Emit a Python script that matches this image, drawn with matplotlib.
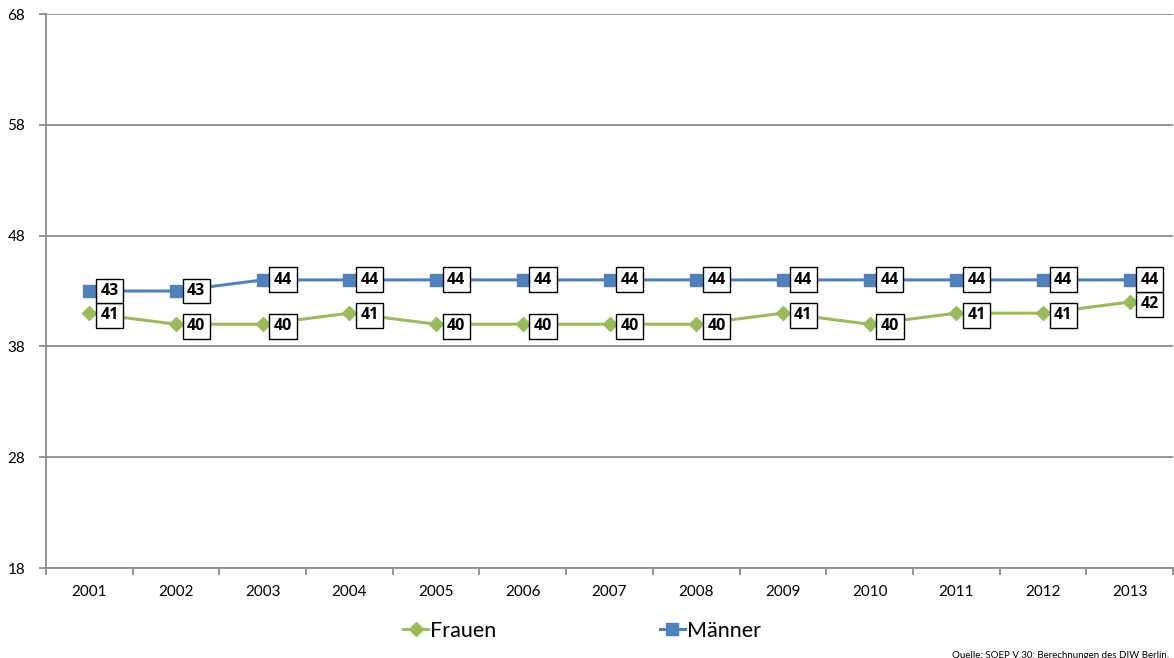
import matplotlib
matplotlib.use("Agg")
import matplotlib.pyplot as plt
import numpy as np

years = ["2001", "2002", "2003", "2004", "2005", "2006", "2007", "2008", "2009", "2010", "2011", "2012", "2013"]
frauen = [41, 40, 40, 41, 40, 40, 40, 40, 41, 40, 41, 41, 42]
maenner = [43, 43, 44, 44, 44, 44, 44, 44, 44, 44, 44, 44, 44]
yticks = [18, 28, 38, 48, 58, 68]

plt.rcParams['font.family'] = ['Lato', 'DejaVu Sans']

green = "#9BBB59"
blue = "#4F81BD"
grid = "#8C8C8C"

fig = plt.figure(figsize=(11.74, 6.58), dpi=100)
ax = fig.add_axes([46/1174, 1-568/658, 1127/1174, (568-14)/658])

x = np.arange(len(years))
ax.plot(x, frauen, color=green, lw=2.2, marker="D", ms=7, mec=green, mfc=green, label="Frauen", zorder=3)
ax.plot(x, maenner, color=blue, lw=2.2, marker="s", ms=9, mec=blue, mfc=blue, label="Männer", zorder=3)

bbox = dict(boxstyle="square,pad=0.28", fc="white", ec="black", lw=1)
lab_font = dict(family=["Open Sans", "DejaVu Sans"], fontsize=11.5, fontweight="bold")
for i, v in enumerate(frauen):
    ax.annotate(str(v), (x[i], v), xytext=(8, -1.5), textcoords="offset points",
                ha="left", va="center", bbox=bbox, zorder=5, **lab_font)
for i, v in enumerate(maenner):
    ax.annotate(str(v), (x[i], v), xytext=(8, 0), textcoords="offset points",
                ha="left", va="center", bbox=bbox, zorder=5, **lab_font)

ax.set_xlim(-0.5, len(years) - 0.5)
ax.set_ylim(18, 68)
ax.set_yticks(yticks)
ax.set_yticklabels([str(t) for t in yticks], fontsize=11)
ax.yaxis.grid(True, color=grid, lw=1.3)
ax.set_axisbelow(True)

ax.set_xticks(x)
ax.set_xticklabels(years, fontsize=11)
ax.tick_params(axis="x", which="major", length=0, pad=12)
ax.set_xticks(np.arange(-0.5, len(years), 1), minor=True)
ax.tick_params(axis="x", which="minor", length=5, color=grid, width=1.3, direction="out")
ax.tick_params(axis="y", length=5, color=grid, width=1.3, pad=10)

for s in ["top", "right"]:
    ax.spines[s].set_visible(False)
for s in ["left", "bottom"]:
    ax.spines[s].set_color(grid)
    ax.spines[s].set_linewidth(1.3)

leg = fig.legend(handles=ax.get_lines(), labels=["Frauen", "Männer"], loc="center",
                 bbox_to_anchor=(582/1174, 1-631/658), ncol=2, frameon=False,
                 fontsize=15.5, handlelength=1.15, handletextpad=0.1, columnspacing=7.6)

fig.text(1169/1174, 1-655/658, "Quelle: SOEP V.30; Berechnungen des DIW Berlin.", ha="right", va="center", fontsize=7)

fig.savefig("out.png", dpi=100)
